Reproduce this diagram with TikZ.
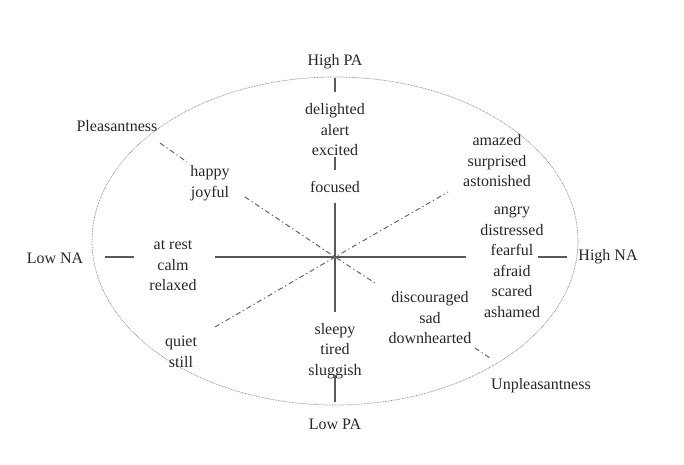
\documentclass[tikz,border=0pt]{standalone}
\usepackage{fontspec}
\setmainfont{Liberation Serif}
\begin{document}
\begin{tikzpicture}[x=1pt,y=-1pt,
  lbl/.style={align=center,inner sep=0pt,text=black!85,font=\fontsize{16}{20.5}\selectfont},
  axis/.style={draw=black!65,line width=1.1pt},
  diag/.style={draw=black!60,line width=1pt,dash pattern=on 5pt off 3pt on 1.2pt off 3pt},
  rim/.style={draw=black!45,line width=0.7pt,dash pattern=on 0.8pt off 0.8pt}]
\useasboundingbox (0,0) rectangle (684,464);
% ellipse
\draw[rim] (335,241) ellipse [x radius=243, y radius=164];
% labels
\node[lbl] (hpa) at (335,62) {High PA};
\node[lbl] (lpa) at (335,424) {Low PA};
\node[lbl] (lna) at (55,258) {Low NA};
\node[lbl] (hna) at (608,257) {High NA};
\node[lbl] (pl) at (117,126) {Pleasantness};
\node[lbl] (un) at (541,386) {Unpleasantness};
\node[lbl] (del) at (335,130) {delighted\\alert\\excited};
\node[lbl] (foc) at (335,187) {focused};
\node[lbl] (hap) at (210,183) {happy\\joyful};
\node[lbl] (ama) at (497,161) {amazed\\surprised\\astonished};
\node[lbl] (ang) at (512,262) {angry\\distressed\\fearful\\afraid\\scared\\ashamed};
\node[lbl] (rest) at (173,266) {at rest\\calm\\relaxed};
\node[lbl] (qui) at (181,352) {quiet\\still};
\node[lbl] (sle) at (335,351) {sleepy\\tired\\sluggish};
\node[lbl] (dis) at (430,318) {discouraged\\sad\\downhearted};
% coordinates
\coordinate (O) at (335,257);
\coordinate (v1a) at (335,78); \coordinate (v1b) at (335,92);
\coordinate (v2a) at (335,157); \coordinate (v2b) at (335,170);
\coordinate (v3a) at (335,203); \coordinate (v3b) at (335,312);
\coordinate (v4a) at (335,375); \coordinate (v4b) at (335,402);
\coordinate (h1a) at (215,257); \coordinate (h1b) at (466,257);
\coordinate (h2a) at (105,257); \coordinate (h2b) at (134,257);
\coordinate (h3a) at (538,257); \coordinate (h3b) at (567,257);
\coordinate (p1a) at (160,143); \coordinate (p1b) at (187,162);
\coordinate (p2a) at (245,197);
\coordinate (u1b) at (375,283);
\coordinate (u2a) at (475,348); \coordinate (u2b) at (490,358);
\coordinate (q1a) at (215,327);
\coordinate (a1b) at (448,192);
% axes
\draw[axis] (v1a) -- (v1b);
\draw[axis] (v2a) -- (v2b);
\draw[axis] (v3a) -- (v3b);
\draw[axis] (v4a) -- (v4b);
\draw[axis] (h1a) -- (h1b);
\draw[axis] (h2a) -- (h2b);
\draw[axis] (h3a) -- (h3b);
% diagonals
\draw[diag] (p1a) -- (p1b);
\draw[diag] (p2a) -- (O) -- (u1b);
\draw[diag] (u2a) -- (u2b);
\draw[diag] (q1a) -- (O) -- (a1b);
\end{tikzpicture}
\end{document}
